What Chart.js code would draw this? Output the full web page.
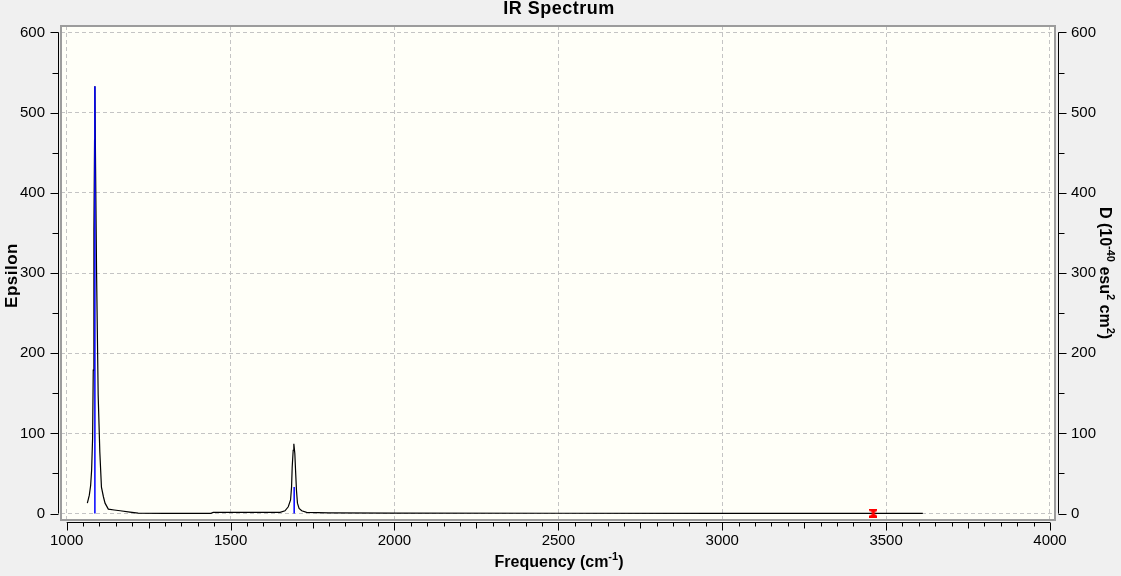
<!DOCTYPE html>
<html>
<head>
<meta charset="utf-8">
<title>IR Spectrum</title>
<script src="https://cdn.jsdelivr.net/npm/chart.js@4.4.0/dist/chart.umd.min.js"></script>
<style>
    html, body { margin: 0; padding: 0; background: #f0f0f0; }
    #wrap { width: 1121px; height: 576px; }
</style>
</head>
<body>
<div id="wrap"><canvas id="ir-chart" width="1121" height="576"></canvas></div>
<script>
// Broadened spectrum (Epsilon, left axis)
const curveFreq = [1063, 1069, 1073, 1076, 1079, 1081, 1083, 1085, 1086, 1088, 1091, 1096, 1101, 1106,
    1112, 1117, 1127, 1145, 1163, 1193, 1218, 1300, 1440, 1447, 1550, 1651, 1666, 1676, 1683, 1686,
    1688, 1691, 1693, 1696, 1698, 1701, 1704, 1709, 1717, 1732, 1800, 2000, 2500, 3000, 3460, 3612];
const curveEps = [13, 23, 35, 54, 94, 179, 353, 466, 533, 436, 304, 148, 77, 33,
    21, 13, 5.6, 4.5, 3.5, 1.8, 0.5, 0.3, 0.3, 1.5, 1.5, 1.5, 3.5, 8.5, 17, 33,
    58, 79, 87, 75, 56, 29, 13, 6.5, 3.5, 1.5, 1.0, 0.6, 0.4, 0.3, 0.3, 0.3];

// Stick intensities (D, right axis)
const stickFreq = [1086, 1694];
const stickD = [533, 33];

// Selected mode (red marker)
const markFreq = [3461];
const markD = [0.5];

// Tick values
const xTicks = [1000, 1500, 2000, 2500, 3000, 3500, 4000];
const yTicks = [0, 100, 200, 300, 400, 500, 600];

const TICK_FONT = { family: '"Liberation Sans Narrow", "Liberation Sans", Arial, sans-serif', size: 15 };
const BOLD = '"Liberation Sans", Arial, sans-serif';

// red hourglass marker used as point style
function makeMarker() {
    const c = document.createElement('canvas');
    c.width = 8;
    c.height = 9;
    const g = c.getContext('2d');
    g.fillStyle = '#ff0000';
    g.beginPath();
    g.moveTo(0, 0); g.lineTo(8, 0); g.lineTo(8, 2); g.lineTo(5.5, 3.5); g.lineTo(5.5, 5.5);
    g.lineTo(8, 7); g.lineTo(8, 9); g.lineTo(0, 9); g.lineTo(0, 7); g.lineTo(2.5, 5.5);
    g.lineTo(2.5, 3.5); g.lineTo(0, 2);
    g.closePath();
    g.fill();
    return c;
}

// sticks as separate vertical segments, broken by null points
const stickData = [];
stickFreq.forEach((f, i) => {
    stickData.push({ x: f, y: 0 }, { x: f, y: stickD[i] }, { x: f, y: null });
});

function drawRich(ctx, parts, x, y) {
    // parts: [{t, sup}] centred on x, baseline y
    const widths = parts.map(p => {
        ctx.font = p.sup ? 'bold 11px ' + BOLD : 'bold 16px ' + BOLD;
        return ctx.measureText(p.t).width;
    });
    const total = widths.reduce((a, b) => a + b, 0);
    let cx = x - total / 2;
    parts.forEach((p, i) => {
        ctx.font = p.sup ? 'bold 11px ' + BOLD : 'bold 16px ' + BOLD;
        ctx.fillText(p.t, cx, p.sup ? y - 7 : y);
        cx += widths[i];
    });
}

const frame = {
    id: 'frame',
    beforeDraw(chart) {
        const { ctx, chartArea: a } = chart;
        ctx.save();
        ctx.fillStyle = '#fffff8';
        ctx.fillRect(a.left, a.top, a.right - a.left, a.bottom - a.top);
        ctx.restore();
    },
    afterDraw(chart) {
        const { ctx, chartArea: a, scales } = chart;
        const sx = scales.x, sy = scales.y, sy2 = scales.y2;
        ctx.save();

        // plot border
        ctx.strokeStyle = '#9c9c9c';
        ctx.lineWidth = 2;
        ctx.strokeRect(a.left, a.top, a.right - a.left, a.bottom - a.top);

        // axis lines and tick marks, outside the plot
        ctx.strokeStyle = '#000';
        ctx.lineWidth = 1;
        ctx.beginPath();
        const lx = 58.5, rx = 1058.5, by = 522.5;
        ctx.moveTo(lx, sy.getPixelForValue(600)); ctx.lineTo(lx, sy.getPixelForValue(0));
        ctx.moveTo(rx, sy2.getPixelForValue(600)); ctx.lineTo(rx, sy2.getPixelForValue(0));
        for (let v = 0; v <= 600; v += 50) {
            const py = Math.round(sy.getPixelForValue(v)) + 0.5;
            const len = v % 100 === 0 ? 8 : 6;
            ctx.moveTo(lx - len, py); ctx.lineTo(lx, py);
            const py2 = Math.round(sy2.getPixelForValue(v)) + 0.5;
            ctx.moveTo(rx, py2); ctx.lineTo(rx + len, py2);
        }
        ctx.moveTo(sx.getPixelForValue(1000), by); ctx.lineTo(sx.getPixelForValue(4000), by);
        for (let v = 1000; v <= 4000; v += 50) {
            const px = Math.round(sx.getPixelForValue(v)) + 0.5;
            const len = v % 500 === 0 ? 8 : (v % 250 === 0 ? 6 : 4);
            ctx.moveTo(px, by); ctx.lineTo(px, by + len);
        }
        ctx.stroke();

        ctx.fillStyle = '#000';
        ctx.textBaseline = 'alphabetic';

        // title
        ctx.font = 'bold 18px ' + BOLD;
        ctx.letterSpacing = '0.5px';
        ctx.textAlign = 'center';
        ctx.fillText('IR Spectrum', 559, 14);

        // y title (left)
        ctx.save();
        ctx.translate(17, 275.5);
        ctx.rotate(-Math.PI / 2);
        ctx.font = 'bold 17px ' + BOLD;
        ctx.fillText('Epsilon', 0, 0);
        ctx.restore();
        ctx.letterSpacing = '0px';

        // x title
        ctx.textAlign = 'left';
        drawRich(ctx, [{ t: 'Frequency (cm' }, { t: '-1', sup: true }, { t: ')' }], 559, 567);

        // y title (right)
        ctx.save();
        ctx.translate(1099.5, 273);
        ctx.rotate(Math.PI / 2);
        drawRich(ctx, [{ t: 'D (10' }, { t: '-40', sup: true }, { t: ' esu' }, { t: '2', sup: true },
            { t: ' cm' }, { t: '2', sup: true }, { t: ')' }], 0, 0);
        ctx.restore();

        ctx.restore();
    }
};

const ctx = document.getElementById('ir-chart').getContext('2d');
const chart = new Chart(ctx, {
    type: 'line',
    data: {
        datasets: [
            {
                label: 'Selected',
                data: markFreq.map((f, i) => ({ x: f, y: markD[i] })),
                yAxisID: 'y2',
                showLine: false,
                pointStyle: makeMarker(),
                pointRadius: 5
            },
            {
                label: 'Sticks',
                data: stickData,
                yAxisID: 'y2',
                borderColor: '#0000ff',
                borderWidth: 1.5,
                pointRadius: 0,
                spanGaps: false
            },
            {
                label: 'Spectrum',
                data: curveFreq.map((f, i) => ({ x: f, y: curveEps[i] })),
                yAxisID: 'y',
                borderColor: '#000000',
                borderWidth: 1.2,
                pointRadius: 0,
                tension: 0
            }
        ]
    },
    options: {
        responsive: false,
        animation: false,
        devicePixelRatio: 1,
        events: [],
        layout: { padding: { top: 26, left: 0, right: 0, bottom: 0 } },
        plugins: {
            legend: { display: false },
            tooltip: { enabled: false },
            title: { display: false }
        },
        scales: {
            x: {
                type: 'linear',
                min: 982.6,
                max: 4015.3,
                afterBuildTicks: s => { s.ticks = xTicks.map(v => ({ value: v })); },
                afterFit: s => { s.height = 56; },
                grid: { color: '#c4c4c4', lineWidth: 1, drawTicks: false },
                border: { display: false, dash: [4, 3] },
                ticks: { color: '#000', font: TICK_FONT, padding: 12, maxRotation: 0, callback: v => String(v) }
            },
            y: {
                position: 'left',
                min: -8,
                max: 608,
                afterBuildTicks: s => { s.ticks = yTicks.map(v => ({ value: v })); },
                afterFit: s => { s.width = 61; },
                grid: { color: '#c4c4c4', lineWidth: 1, drawTicks: false },
                border: { display: false, dash: [4, 3] },
                ticks: { color: '#000', font: TICK_FONT, padding: 16, callback: v => String(v) }
            },
            y2: {
                position: 'right',
                min: -8,
                max: 608,
                afterBuildTicks: s => { s.ticks = yTicks.map(v => ({ value: v })); },
                afterFit: s => { s.width = 66; },
                grid: { display: false, drawTicks: false },
                border: { display: false },
                ticks: { color: '#000', font: TICK_FONT, padding: 16, callback: v => String(v) }
            }
        }
    },
    plugins: [frame]
});
</script>
</body>
</html>
